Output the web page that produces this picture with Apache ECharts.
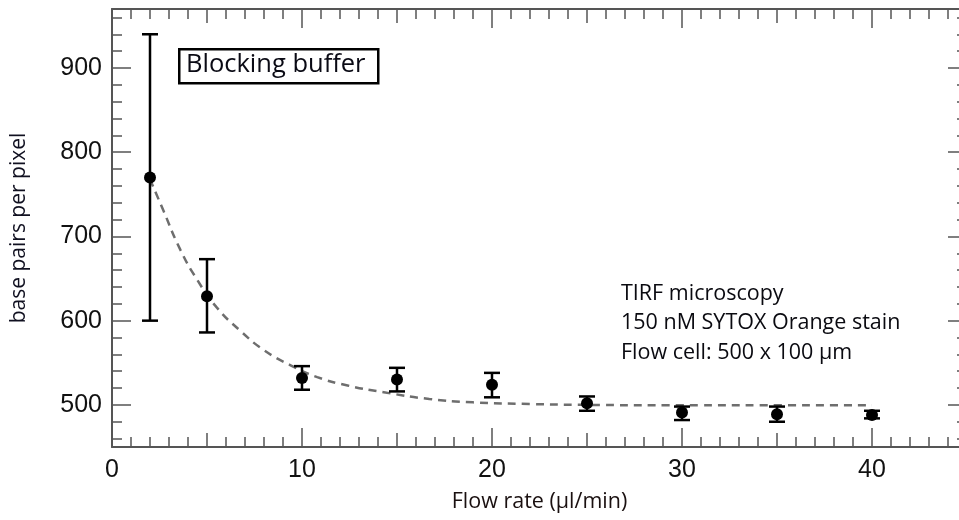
<!DOCTYPE html>
<html>
<head>
<meta charset="utf-8">
<script src="https://cdn.jsdelivr.net/npm/echarts@6/dist/echarts.min.js"></script>
<style>html,body{margin:0;padding:0;background:#fff;}#c{width:959px;height:520px;}</style>
</head>
<body>
<div id="c"></div>
<script>
// ---- data ----
const xVals    = [2, 5, 10, 15, 20, 25, 30, 35, 40];
const meanVals = [770, 629, 532, 530, 524, 502, 491, 489, 488];
const lowVals  = [600, 586, 518, 516, 509, 493, 482, 480, 484];
const highVals = [940, 673, 546, 544, 538, 510, 498, 498, 493];

const fitX = [2, 2.7, 3.6, 4.5, 5.5, 6.75, 8, 9.4, 10.8, 12.4, 14.3, 16.7, 19, 22, 25, 30, 35, 40];
const fitY = [768, 731, 684, 648, 616, 588, 565, 547, 533, 523, 515, 507, 503, 501, 500, 499.5, 499.5, 499.5];

const yMajorTicks = [500, 600, 700, 800, 900];
const yMinorTicks = [460, 480, 500, 520, 540, 560, 580, 600, 620, 640, 660, 680, 700, 720, 740, 760, 780, 800, 820, 840, 860, 880, 900, 920, 940, 960];
const xLabelInterval = 10;

const xTitle = 'Flow rate (µl/min)';
const yTitle = 'base pairs per pixel';
const boxLabel = 'Blocking buffer';
const noteLines = ['TIRF microscopy', '150 nM SYTOX Orange stain', 'Flow cell: 500 x 100 µm'];

// ---- chart ----
const AX = '#555';
const chart = echarts.init(document.getElementById('c'), null, {renderer: 'canvas'});

function xAx(pos, interval, len, main) {
  return {
    type: 'value', position: pos, min: 0, max: 45, interval: interval,
    axisLine: {show: main, onZero: false, lineStyle: {color: AX, width: 2}},
    axisTick: {show: true, inside: true, length: len, lineStyle: {color: AX, width: 1.5}},
    axisLabel: {show: main && pos === 'bottom', showMaxLabel: false, margin: 11, color: '#111', fontSize: 25, fontFamily: 'Liberation Sans'},
    splitLine: {show: false},
    name: main && pos === 'bottom' ? xTitle : '',
    nameLocation: 'middle', nameGap: 44,
    nameTextStyle: {fontFamily: 'Open Sans', fontSize: 21.5, color: '#1a1010'}
  };
}
function yAx(pos, ticks, len, main) {
  return {
    type: 'value', position: pos, min: 450, max: 970,
    axisLine: {show: main, onZero: false, lineStyle: {color: AX, width: 2}},
    axisTick: {show: true, inside: true, length: len, customValues: ticks, lineStyle: {color: AX, width: 1.5}},
    axisLabel: {show: main && pos === 'left', customValues: yMajorTicks, margin: 10, color: '#111', fontSize: 25, fontFamily: 'Liberation Sans'},
    splitLine: {show: false},
    name: main && pos === 'left' ? yTitle : '',
    nameLocation: 'middle', nameRotate: 90, nameGap: 82,
    nameTextStyle: {fontFamily: 'Open Sans', fontSize: 21, color: '#101020'}
  };
}

const errData = xVals.map((x, i) => [x, lowVals[i], highVals[i]]);
const ptData = xVals.map((x, i) => [x, meanVals[i]]);
const fitData = fitX.map((x, i) => [x, fitY[i]]);

chart.setOption({
  animation: false,
  backgroundColor: '#fff',
  grid: {left: 112, top: 9, width: 855, height: 438, containLabel: false, outerBoundsMode: 'none'},
  xAxis: [
    xAx('bottom', xLabelInterval, 19, true),
    xAx('bottom', 5, 14, false),
    xAx('bottom', 1, 10, false),
    xAx('top', xLabelInterval, 19, true),
    xAx('top', 5, 14, false),
    xAx('top', 1, 10, false)
  ],
  yAxis: [
    yAx('left', yMajorTicks, 19, true),
    yAx('left', yMinorTicks, 10, false),
    yAx('right', yMajorTicks, 19, true),
    yAx('right', yMinorTicks, 10, false)
  ],
  series: [
    {
      type: 'line', data: fitData, smooth: true, showSymbol: false, symbol: 'none',
      lineStyle: {color: '#6e6e6e', width: 2.5, type: [8, 6]}, z: 2
    },
    {
      type: 'custom', data: errData, z: 3,
      renderItem: function (params, api) {
        const x = api.value(0);
        const lo = api.coord([x, api.value(1)]);
        const hi = api.coord([x, api.value(2)]);
        const hw = 8;
        const st = {stroke: '#000', lineWidth: 2.5};
        return {
          type: 'group',
          children: [
            {type: 'line', shape: {x1: lo[0], y1: lo[1], x2: hi[0], y2: hi[1]}, style: st},
            {type: 'line', shape: {x1: hi[0] - hw, y1: hi[1], x2: hi[0] + hw, y2: hi[1]}, style: st},
            {type: 'line', shape: {x1: lo[0] - hw, y1: lo[1], x2: lo[0] + hw, y2: lo[1]}, style: st}
          ]
        };
      }
    },
    {
      type: 'scatter', data: ptData, symbol: 'circle', symbolSize: 12,
      itemStyle: {color: '#000', opacity: 1}, z: 4
    }
  ],
  graphic: [
    {
      type: 'rect', left: 178, top: 48, shape: {width: 199, height: 34},
      style: {fill: '#fff', stroke: '#000', lineWidth: 2.5}, z: 10
    },
    {
      type: 'text', left: 186, top: 48,
      style: {text: boxLabel, fontFamily: 'Open Sans', fontSize: 25.5, fill: '#0a0a14', lineHeight: 34}, z: 11
    },
    {
      type: 'text', left: 621, top: 279,
      style: {text: noteLines.join('\n'), fontFamily: 'Open Sans', fontSize: 21.5, fill: '#0a0a10', lineHeight: 29.5}, z: 11
    }
  ]
});
</script>
</body>
</html>
